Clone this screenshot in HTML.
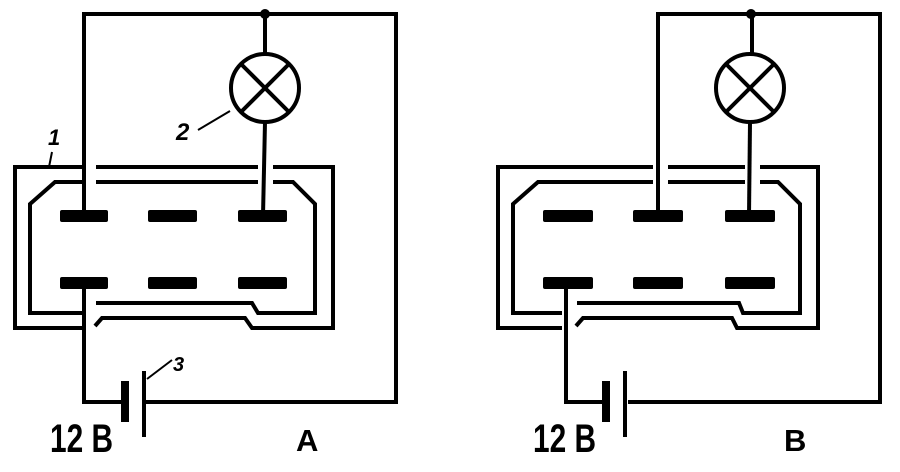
<!DOCTYPE html>
<html><head><style>html,body{margin:0;padding:0;background:#fff}svg{display:block}</style></head>
<body>
<svg width="900" height="472" viewBox="0 0 900 472" xmlns="http://www.w3.org/2000/svg">
<!-- A -->
<g fill="none" stroke="#000" stroke-width="4" stroke-linejoin="miter">
  <polyline points="82,167 15,167 15,328 82,328"/>
  <line x1="96" y1="167" x2="258" y2="167"/>
  <polyline points="273,167 333,167 333,328 252,328 245,318 102,318 95,326"/>
  <polyline points="82,182 55,182 30,204 30,313 82,313"/>
  <line x1="96" y1="182" x2="258" y2="182"/>
  <polyline points="273,182 293,182 315,204 315,313 258,313 252,303 96,303"/>

  <polyline points="84,216 84,14 396,14 396,402 144,402"/>
  <line x1="265" y1="14" x2="265" y2="53"/>
  <circle cx="265" cy="88" r="34"/>
  <line x1="241" y1="64" x2="289" y2="112"/>
  <line x1="289" y1="64" x2="241" y2="112"/>
  <line x1="265" y1="122" x2="263" y2="216"/>
  <polyline points="84,283 84,402 122,402"/>
  <line x1="144" y1="371" x2="144" y2="437"/>
  <line x1="125" y1="381" x2="125" y2="422" stroke-width="8"/>
</g>
<g fill="#000">
  <circle cx="265" cy="14" r="5"/>
  <rect x="60" y="210" width="48" height="12" rx="2"/>
  <rect x="148" y="210" width="49" height="12" rx="2"/>
  <rect x="238" y="210" width="49" height="12" rx="2"/>
  <rect x="60" y="277" width="48" height="12" rx="2"/>
  <rect x="148" y="277" width="49" height="12" rx="2"/>
  <rect x="238" y="277" width="49" height="12" rx="2"/>
</g>
<g stroke="#000" stroke-width="2" fill="none">
  <line x1="52" y1="152" x2="49" y2="167"/>
  <line x1="198" y1="130" x2="230" y2="111"/>
  <line x1="147" y1="379" x2="172" y2="360"/>
</g>
<g font-family="Liberation Sans, sans-serif" font-weight="bold" font-style="italic" fill="#000">
  <text x="48" y="145" font-size="22">1</text>
  <text x="176" y="140" font-size="24">2</text>
  <text x="173" y="371" font-size="20">3</text>
</g>

<!-- B -->
<g fill="none" stroke="#000" stroke-width="4" stroke-linejoin="miter">
  <polyline points="653,167 498,167 498,328 562,328"/>
  <line x1="668" y1="167" x2="745" y2="167"/>
  <polyline points="760,167 818,167 818,328 737,328 732,318 583,318 576,326"/>
  <polyline points="653,182 538,182 513,204 513,313 562,313"/>
  <line x1="668" y1="182" x2="745" y2="182"/>
  <polyline points="760,182 778,182 800,204 800,313 743,313 739,303 577,303"/>

  <polyline points="658,216 658,14 880,14 880,402 628,402"/>
  <line x1="752" y1="14" x2="752" y2="53"/>
  <circle cx="750" cy="88" r="34"/>
  <line x1="726" y1="64" x2="774" y2="112"/>
  <line x1="774" y1="64" x2="726" y2="112"/>
  <line x1="750" y1="122" x2="749" y2="216"/>
  <polyline points="566,283 566,402 604,402"/>
  <line x1="625" y1="371" x2="625" y2="437"/>
  <line x1="606" y1="381" x2="606" y2="422" stroke-width="8"/>
</g>
<g fill="#000">
  <circle cx="751" cy="14" r="5"/>
  <rect x="543" y="210" width="50" height="12" rx="2"/>
  <rect x="633" y="210" width="50" height="12" rx="2"/>
  <rect x="725" y="210" width="50" height="12" rx="2"/>
  <rect x="543" y="277" width="50" height="12" rx="2"/>
  <rect x="633" y="277" width="50" height="12" rx="2"/>
  <rect x="725" y="277" width="50" height="12" rx="2"/>
</g>

<g font-family="Liberation Sans, sans-serif" font-weight="bold" fill="#000">
  <text x="50" y="452" font-size="40" textLength="63" lengthAdjust="spacingAndGlyphs">12 B</text>
  <text x="296" y="451" font-size="31">A</text>
  <text x="533" y="452" font-size="40" textLength="63" lengthAdjust="spacingAndGlyphs">12 B</text>
  <text x="784" y="451" font-size="31">B</text>
</g>
</svg>
</body></html>
